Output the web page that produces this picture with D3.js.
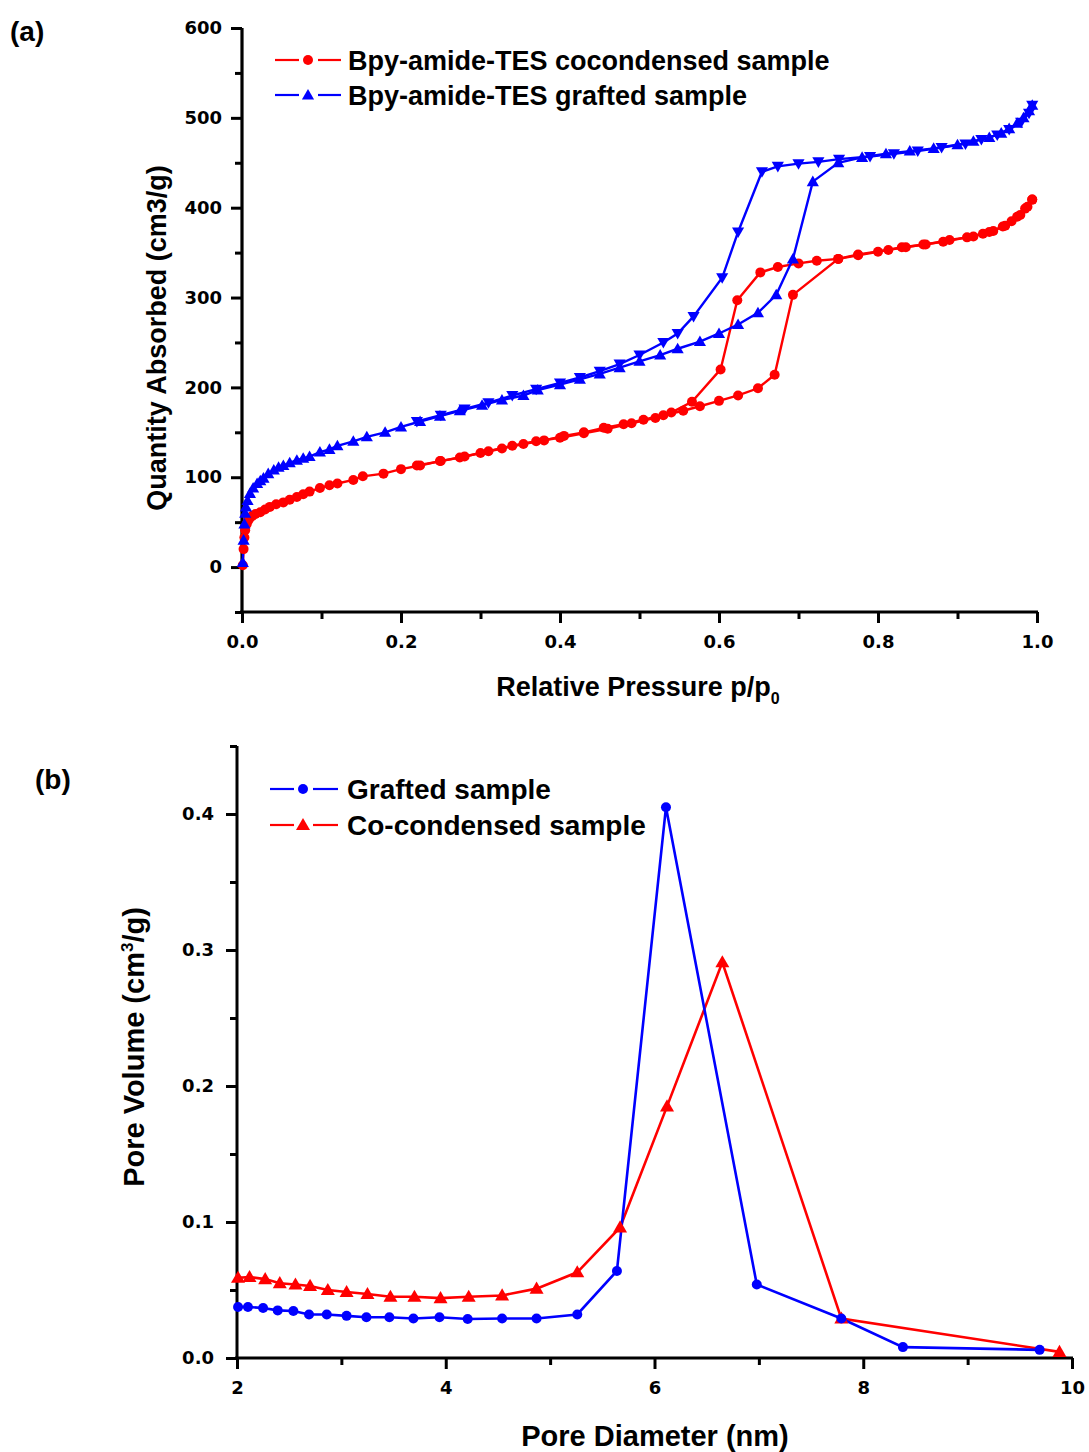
<!DOCTYPE html>
<html>
<head>
<meta charset="utf-8">
<script src="https://cdn.jsdelivr.net/npm/d3@7"></script>
<style>
  html, body { margin: 0; padding: 0; background: #fff; }
  svg text { font-family: "Liberation Sans", Arial, sans-serif; font-weight: bold; fill: #000; }
</style>
</head>
<body>
<svg id="chart" width="1089" height="1452"></svg>
<script>
// ---- (a) N2 sorption isotherms: [relative pressure, quantity adsorbed cm3/g] ----
const coAdsorption = [
  [0.001, 2], [0.002, 20], [0.003, 33], [0.004, 41], [0.006, 48], [0.008, 52], [0.01, 55],
  [0.013, 57], [0.017, 59], [0.023, 61], [0.029, 64], [0.035, 67], [0.043, 70], [0.052, 72],
  [0.06, 75], [0.069, 78], [0.077, 81], [0.085, 84], [0.098, 88], [0.11, 91], [0.12, 93],
  [0.14, 97], [0.152, 101], [0.178, 104], [0.2, 109], [0.224, 113], [0.249, 118], [0.274, 122],
  [0.30, 127], [0.327, 132], [0.354, 137], [0.38, 141], [0.405, 146], [0.43, 150], [0.455, 155],
  [0.48, 159], [0.505, 164], [0.53, 169], [0.555, 174], [0.576, 179], [0.60, 185], [0.624, 191],
  [0.649, 199], [0.670, 214], [0.693, 303], [0.75, 343], [0.775, 348], [0.813, 353], [0.835, 356],
  [0.857, 359], [0.882, 362], [0.912, 367], [0.932, 371], [0.945, 374], [0.957, 379], [0.968, 385],
  [0.979, 392], [0.985, 399], [0.994, 409]
];
const coDesorption = [
  [0.994, 409], [0.988, 401], [0.975, 390], [0.96, 380], [0.94, 373], [0.92, 368], [0.89, 364],
  [0.86, 359], [0.83, 356], [0.80, 351], [0.775, 347], [0.75, 343], [0.723, 341], [0.70, 338],
  [0.674, 334], [0.652, 328], [0.623, 297], [0.602, 220], [0.566, 184], [0.54, 172], [0.52, 166],
  [0.49, 160], [0.46, 154], [0.43, 149], [0.40, 144], [0.37, 140], [0.34, 135], [0.31, 129],
  [0.28, 123], [0.25, 118], [0.22, 113]
];
const graftAdsorption = [
  [0.001, 5], [0.002, 30], [0.003, 48], [0.004, 60], [0.005, 67], [0.007, 74], [0.01, 82],
  [0.014, 88], [0.019, 93], [0.023, 96], [0.027, 99], [0.033, 104], [0.04, 108], [0.046, 111],
  [0.052, 113], [0.06, 116], [0.069, 119], [0.077, 121], [0.085, 123], [0.098, 128], [0.11, 131],
  [0.12, 135], [0.14, 140], [0.157, 145], [0.18, 150], [0.2, 156], [0.224, 162], [0.249, 168],
  [0.274, 174], [0.302, 180], [0.327, 186], [0.354, 191], [0.372, 197], [0.40, 203], [0.425, 209],
  [0.45, 215], [0.475, 222], [0.50, 229], [0.526, 236], [0.548, 243], [0.576, 251], [0.60, 260],
  [0.624, 270], [0.649, 283], [0.672, 303], [0.693, 343], [0.718, 429], [0.75, 450], [0.78, 456],
  [0.81, 460], [0.84, 463], [0.87, 466], [0.9, 470], [0.92, 474], [0.94, 478], [0.955, 483],
  [0.965, 488], [0.975, 494], [0.983, 500], [0.99, 508], [0.994, 514]
];
const graftDesorption = [
  [0.994, 514], [0.99, 505], [0.98, 495], [0.965, 487], [0.95, 481], [0.93, 476], [0.91, 471],
  [0.88, 467], [0.85, 463], [0.82, 460], [0.79, 457], [0.751, 454], [0.725, 451], [0.70, 449],
  [0.674, 446], [0.654, 440], [0.624, 373], [0.604, 322], [0.568, 279], [0.548, 260], [0.53, 250],
  [0.50, 236], [0.475, 226], [0.45, 218], [0.425, 211], [0.40, 205], [0.37, 198], [0.34, 191],
  [0.31, 183], [0.28, 176], [0.25, 169], [0.22, 162]
];
const isoXTicks = [0, 0.2, 0.4, 0.6, 0.8, 1.0];
const isoYTicks = [0, 100, 200, 300, 400, 500, 600];
const isoLegend = ["Bpy-amide-TES cocondensed sample", "Bpy-amide-TES grafted sample"];

// ---- (b) pore size distribution: diameter (nm) and pore volume (cm3/g) ----
const graftDiameter = [2.01, 2.105, 2.25, 2.39, 2.54, 2.69, 2.86, 3.05, 3.24, 3.46, 3.69, 3.94,
  4.21, 4.54, 4.87, 5.26, 5.64, 6.11, 6.98, 7.79, 8.38, 9.69];
const graftVolume = [0.0375, 0.0375, 0.0368, 0.035, 0.0346, 0.032, 0.032, 0.031, 0.030, 0.030,
  0.029, 0.030, 0.0287, 0.029, 0.029, 0.032, 0.064, 0.405, 0.054, 0.029, 0.008, 0.006];
const coDiameter = [2.01, 2.12, 2.27, 2.41, 2.56, 2.70, 2.87, 3.05, 3.25, 3.47, 3.70, 3.95,
  4.22, 4.54, 4.87, 5.26, 5.67, 6.12, 6.65, 7.79, 9.88];
const coVolume = [0.059, 0.0595, 0.058, 0.055, 0.054, 0.053, 0.050, 0.0485, 0.047, 0.045, 0.045,
  0.044, 0.045, 0.046, 0.051, 0.063, 0.096, 0.185, 0.291, 0.029, 0.0045];
const psdXTicks = [2, 4, 6, 8, 10];
const psdYTicks = [0, 0.1, 0.2, 0.3, 0.4];
const psdLegend = ["Grafted sample", "Co-condensed sample"];

const RED = "#ff0000", BLUE = "#0000ff";
const TICK_FONT = '"DejaVu Sans", "Liberation Sans", sans-serif';
const svg = d3.select("#chart");
svg.append("rect").attr("width", 1089).attr("height", 1452).attr("fill", "#fff");

const tri = d3.symbol().type(d3.symbolTriangle);

function drawAxes(g, x, y, opt) {
  const [x0, x1] = x.range(), [y0, y1] = y.range();
  // minor ticks
  g.append("g").attr("transform", `translate(0,${y0})`)
    .call(d3.axisBottom(x).tickValues(opt.xMinor).tickSize(opt.minor).tickFormat(""))
    .call(a => a.select(".domain").remove());
  g.append("g").attr("transform", `translate(${x0},0)`)
    .call(d3.axisLeft(y).tickValues(opt.yMinor).tickSize(opt.minor).tickFormat(""))
    .call(a => a.select(".domain").remove());
  // major ticks + labels
  const ax = g.append("g").attr("transform", `translate(0,${y0})`)
    .call(d3.axisBottom(x).tickValues(opt.xTicks).tickSize(opt.major).tickPadding(opt.xPad).tickFormat(opt.xFmt));
  const ay = g.append("g").attr("transform", `translate(${x0},0)`)
    .call(d3.axisLeft(y).tickValues(opt.yTicks).tickSize(opt.major).tickPadding(opt.yPad).tickFormat(opt.yFmt));
  [ax, ay].forEach(a => {
    a.select(".domain").remove();
    a.selectAll("text").style("font-size", opt.tickFont + "px").style("font-family", TICK_FONT).style("font-weight", "bold");
  });
  g.selectAll(".tick line").attr("stroke", "#000").attr("stroke-width", opt.tickW);
  // axis lines
  g.append("line").attr("x1", x0 - 2).attr("x2", x1 + 1).attr("y1", y0).attr("y2", y0)
    .attr("stroke", "#000").attr("stroke-width", opt.axisW);
  g.append("line").attr("x1", x0).attr("x2", x0).attr("y1", y0 + 1).attr("y2", y1)
    .attr("stroke", "#000").attr("stroke-width", opt.axisW);
}

// ================= Panel (a) =================
{
  const x = d3.scaleLinear().domain([0, 1]).range([242, 1037]);
  const y = d3.scaleLinear().domain([-50, 600]).range([612, 28]);
  const g = svg.append("g");
  drawAxes(g, x, y, {
    xTicks: isoXTicks, yTicks: isoYTicks,
    xMinor: d3.range(0.1, 1, 0.2), yMinor: d3.range(-50, 600, 100),
    xFmt: d3.format(".1f"), yFmt: d3.format("d"),
    major: 11, minor: 7, xPad: 12, yPad: 9, tickFont: 18, tickW: 3, axisW: 3.2
  });

  const line = d3.line().x(d => x(d[0])).y(d => y(d[1]));
  const series = [
    { data: coAdsorption, color: RED, mark: "circle" },
    { data: coDesorption, color: RED, mark: "circle" },
    { data: graftAdsorption, color: BLUE, mark: "up" },
    { data: graftDesorption, color: BLUE, mark: "down" }
  ];
  series.forEach(s => {
    g.append("path").attr("d", line(s.data)).attr("fill", "none")
      .attr("stroke", s.color).attr("stroke-width", 2.4);
  });
  series.forEach(s => {
    const m = g.append("g").attr("fill", s.color);
    if (s.mark === "circle") {
      m.selectAll("circle").data(s.data).join("circle")
        .attr("cx", d => x(d[0])).attr("cy", d => y(d[1])).attr("r", 5);
    } else {
      m.selectAll("path").data(s.data).join("path")
        .attr("d", tri.size(64)())
        .attr("transform", d => `translate(${x(d[0])},${y(d[1]) + (s.mark === "up" ? 1 : -1)})${s.mark === "down" ? " rotate(180)" : ""}`);
    }
  });

  // legend
  const leg = [{ c: RED, mark: "circle", y: 60 }, { c: BLUE, mark: "up", y: 95 }];
  leg.forEach((l, i) => {
    const lg = svg.append("g");
    lg.append("line").attr("x1", 275).attr("x2", 299).attr("y1", l.y).attr("y2", l.y).attr("stroke", l.c).attr("stroke-width", 2.2);
    lg.append("line").attr("x1", 318).attr("x2", 341).attr("y1", l.y).attr("y2", l.y).attr("stroke", l.c).attr("stroke-width", 2.2);
    if (l.mark === "circle") lg.append("circle").attr("cx", 308).attr("cy", l.y).attr("r", 5).attr("fill", l.c);
    else lg.append("path").attr("d", tri.size(64)()).attr("transform", `translate(308,${l.y + 1})`).attr("fill", l.c);
    lg.append("text").attr("x", 348).attr("y", l.y + 10).style("font-size", "27px").text(isoLegend[i]);
  });

  // axis titles
  const xt = svg.append("text").attr("x", 638).attr("y", 696).attr("text-anchor", "middle").style("font-size", "27px");
  xt.append("tspan").text("Relative Pressure p/p");
  xt.append("tspan").attr("dy", 8).style("font-size", "16px").text("0");
  svg.append("text").attr("transform", "translate(166,338) rotate(-90)").attr("text-anchor", "middle")
    .style("font-size", "27px").text("Quantity Absorbed (cm3/g)");
  svg.append("text").attr("x", 10).attr("y", 41).style("font-size", "28px").text("(a)");
}

// ================= Panel (b) =================
{
  const x = d3.scaleLinear().domain([2, 10]).range([237, 1072]);
  const y = d3.scaleLinear().domain([0, 0.45]).range([1358, 746]);
  const g = svg.append("g");
  drawAxes(g, x, y, {
    xTicks: psdXTicks, yTicks: psdYTicks,
    xMinor: [3, 5, 7, 9], yMinor: [0.05, 0.15, 0.25, 0.35, 0.45],
    xFmt: d3.format("d"), yFmt: d3.format(".1f"),
    major: 11, minor: 7, xPad: 12, yPad: 12, tickFont: 18, tickW: 3, axisW: 3
  });

  const graft = graftDiameter.map((d, i) => [d, graftVolume[i]]);
  const co = coDiameter.map((d, i) => [d, coVolume[i]]);
  const line = d3.line().x(d => x(d[0])).y(d => y(d[1]));
  g.append("path").attr("d", line(co)).attr("fill", "none").attr("stroke", RED).attr("stroke-width", 2.6);
  g.append("path").attr("d", line(graft)).attr("fill", "none").attr("stroke", BLUE).attr("stroke-width", 2.6);
  g.append("g").attr("fill", RED).selectAll("path").data(co).join("path")
    .attr("d", tri.size(85)()).attr("transform", d => `translate(${x(d[0])},${y(d[1]) + 1})`);
  g.append("g").attr("fill", BLUE).selectAll("circle").data(graft).join("circle")
    .attr("cx", d => x(d[0])).attr("cy", d => y(d[1])).attr("r", 5);

  const leg = [{ c: BLUE, mark: "circle", y: 789 }, { c: RED, mark: "up", y: 825 }];
  leg.forEach((l, i) => {
    const lg = svg.append("g");
    lg.append("line").attr("x1", 270).attr("x2", 294).attr("y1", l.y).attr("y2", l.y).attr("stroke", l.c).attr("stroke-width", 2.2);
    lg.append("line").attr("x1", 313).attr("x2", 338).attr("y1", l.y).attr("y2", l.y).attr("stroke", l.c).attr("stroke-width", 2.2);
    if (l.mark === "circle") lg.append("circle").attr("cx", 303).attr("cy", l.y).attr("r", 5).attr("fill", l.c);
    else lg.append("path").attr("d", tri.size(85)()).attr("transform", `translate(303,${l.y + 1})`).attr("fill", l.c);
    lg.append("text").attr("x", 347).attr("y", l.y + 10).style("font-size", "28px").text(psdLegend[i]);
  });

  svg.append("text").attr("x", 655).attr("y", 1446).attr("text-anchor", "middle").style("font-size", "29px").text("Pore Diameter (nm)");
  const yt = svg.append("text").attr("transform", "translate(144,1047) rotate(-90)").attr("text-anchor", "middle").style("font-size", "29px");
  yt.append("tspan").text("Pore Volume (cm");
  yt.append("tspan").attr("dy", -11).style("font-size", "17px").text("3");
  yt.append("tspan").attr("dy", 11).text("/g)");
  svg.append("text").attr("x", 35).attr("y", 789).style("font-size", "28px").text("(b)");
}
</script>
</body>
</html>
